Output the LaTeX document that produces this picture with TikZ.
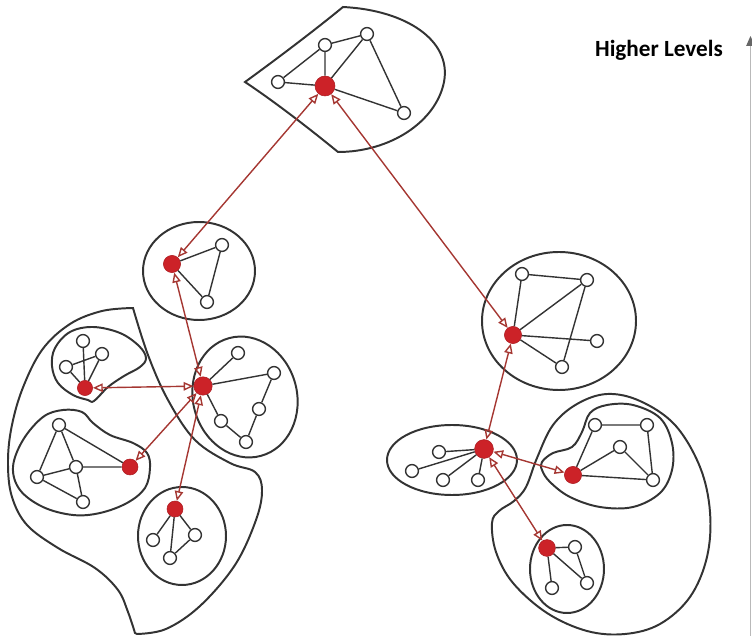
\documentclass[tikz,border=0pt]{standalone}
\usepackage{fontspec}
\newfontfamily\headfont{Carlito}
\usetikzlibrary{arrows.meta}
\definecolor{hubred}{RGB}{204,34,40}
\definecolor{linkred}{RGB}{165,55,50}

\begin{document}
\begin{tikzpicture}[x=0.025cm, y=-0.025cm,
	vx/.style={circle, draw=black!80, fill=white, line width=1pt, minimum size=0.32cm, inner sep=0pt},
	hub/.style={circle, draw=hubred!85!black, fill=hubred, line width=0.4pt, minimum size=#1, inner sep=0pt},
	hub/.default=0.45cm,
	edge/.style={draw=black!80, line width=1pt},
	hull/.style={draw=black!80, line width=1.4pt},
	link/.style={draw=linkred, line width=1pt, >={Triangle[open, length=7pt, width=6pt, line width=1pt]}, <->}]
		\useasboundingbox (0,0) rectangle (752,636);
		\node (title)[font=\headfont\bfseries\fontsize{16.5}{19}\selectfont] at (659,50) {Higher Levels};
		\coordinate (axbot) at (750.5,640);
		\coordinate (axtop) at (750.5,36);
		\draw [gray!55, line width=0.6pt, -{Triangle[length=7pt, width=6pt, color=gray!80!black]}](axbot)--(axtop);
		%
		\draw [hull](245,82) .. controls (278,58) and (315,30) .. (343,7)
			.. controls (405,10) and (452,40) .. (444,82)
			.. controls (436,122) and (390,152) .. (338,152)
			.. controls (305,125) and (272,100) .. (245,82) -- cycle;
		\node (t0)[hub=0.5cm] at (325,86) {};
		\node (t1)[vx] at (278,82) {};
		\node (t2)[vx] at (325,45) {};
		\node (t3)[vx] at (367,34) {};
		\node (t4)[vx] at (404,113) {};
		\draw [edge](t1)--(t2) (t2)--(t3) (t1)--(t0) (t2)--(t0) (t3)--(t0) (t0)--(t4) (t3)--(t4);
		%
		\draw [hull](199,271) ellipse [x radius=56, y radius=49];
		\node (m0)[hub=0.43cm] at (172,264) {};
		\node (m1)[vx] at (222,245) {};
		\node (m2)[vx] at (207,302) {};
		\draw [edge](m0)--(m1) (m0)--(m2) (m1)--(m2);
		%
		\draw [hull]plot[smooth, tension=0.6] coordinates {(133,308) (148,355) (168,400) (195,440) (230,463) (255,472) (262,490) (256,520) (235,565) (200,606) (166,629) (137,634)}
			-- plot[smooth, tension=0.6] coordinates {(135,633) (128,612) (118,590) (95,568) (58,548) (27,525) (12,497) (8,465) (11,430) (22,390) (42,350) (70,324) (102,311) (133,308)} -- cycle;
		%
		\draw [hull]plot[smooth cycle, tension=0.6] coordinates {(94,401) (108,387) (124,376) (140,367) (146,358) (139,346) (120,333) (93,327) (70,332) (55,348) (52,366) (58,383) (73,395) (88,400)};
		\node (a0)[hub=0.38cm] at (85,388) {};
		\node (a1)[vx] at (83,341) {};
		\node (a2)[vx] at (102,354) {};
		\node (a3)[vx] at (66,367) {};
		\draw [edge](a1)--(a0) (a3)--(a2) (a3)--(a0) (a2)--(a0);
		%
		\draw [hull]plot[smooth cycle, tension=0.6] coordinates {(13,467) (23,440) (43,417) (63,410) (82,412) (93,423) (110,435) (133,443) (147,453) (150,468) (145,488) (127,503) (100,513) (73,515) (43,507) (20,490)};
		\node (b0)[hub=0.4cm] at (130,467) {};
		\node (b1)[vx] at (59,425) {};
		\node (b2)[vx] at (76,467) {};
		\node (b3)[vx] at (37,477) {};
		\node (b4)[vx] at (83,502) {};
		\draw [edge](b1)--(b0) (b1)--(b3) (b1)--(b2) (b2)--(b0) (b3)--(b2) (b3)--(b4) (b2)--(b4);
		%
		\draw [hull, rotate around={15:(245,397)}](245,397) ellipse [x radius=52, y radius=61];
		\node (c0)[hub=0.46cm] at (203,386) {};
		\node (c1)[vx] at (238,353) {};
		\node (c2)[vx] at (274,373) {};
		\node (c3)[vx] at (259,409) {};
		\node (c4)[vx] at (246,442) {};
		\node (c5)[vx] at (221,421) {};
		\draw [edge](c0)--(c1) (c0)--(c2) (c0)--(c5) (c2)--(c3) (c3)--(c4) (c4)--(c5);
		%
		\draw [hull](182,536) ellipse [x radius=44, y radius=49];
		\node (d0)[hub=0.4cm] at (175,509) {};
		\node (d1)[vx] at (153,540) {};
		\node (d2)[vx] at (195,535) {};
		\node (d3)[vx] at (170,558) {};
		\draw [edge](d0)--(d1) (d0)--(d3) (d0)--(d2) (d2)--(d3);
		%
		\draw [hull](559,321) ellipse [x radius=77, y radius=69];
		\node (e0)[hub=0.43cm] at (513,335) {};
		\node (e1)[vx] at (522,274) {};
		\node (e2)[vx] at (587,280) {};
		\node (e3)[vx] at (597,341) {};
		\node (e4)[vx] at (562,367) {};
		\draw [edge](e0)--(e1) (e1)--(e2) (e0)--(e2) (e0)--(e3) (e0)--(e4) (e2)--(e4);
		%
		\draw [hull](452,460) ellipse [x radius=65, y radius=35];
		\node (f0)[hub=0.47cm] at (484,449) {};
		\node (f1)[vx] at (439,452) {};
		\node (f2)[vx] at (412,471) {};
		\node (f3)[vx] at (443,480) {};
		\node (f4)[vx] at (478,480) {};
		\draw [edge](f0)--(f1) (f0)--(f2) (f0)--(f3) (f0)--(f4);
		%
		\draw [hull]plot[smooth cycle, tension=0.6] coordinates {(492,523) (496,552) (513,583) (547,613) (587,631) (625,634) (660,624) (690,597) (707,557) (710,512) (700,467) (675,425) (640,401) (607,394) (577,404) (553,425) (537,458) (526,487) (514,501) (499,511)};
		%
		\draw [hull]plot[smooth cycle, tension=0.6] coordinates {(542,462) (553,453) (572,447) (582,432) (590,413) (607,405) (633,405) (660,418) (672,443) (672,470) (660,493) (633,507) (600,507) (570,497) (550,482) (542,470)};
		\node (g0)[hub=0.43cm] at (573,475) {};
		\node (g1)[vx] at (595,425) {};
		\node (g2)[vx] at (647,425) {};
		\node (g3)[vx] at (620,447) {};
		\node (g4)[vx] at (653,480) {};
		\draw [edge](g1)--(g2) (g1)--(g0) (g0)--(g3) (g3)--(g4) (g2)--(g4) (g0)--(g4);
		%
		\draw [hull](567,569) ellipse [x radius=37, y radius=44];
		\node (k0)[hub=0.42cm] at (547,548) {};
		\node (k1)[vx] at (575,547) {};
		\node (k2)[vx] at (587,583) {};
		\node (k3)[vx] at (552,588) {};
		\draw [edge](k0)--(k1) (k0)--(k2) (k0)--(k3) (k1)--(k2);
		%
		\draw [link](t0)--(m0);
		\draw [link](t0)--(e0);
		\draw [link](m0)--(c0);
		\draw [link](c0)--(a0);
		\draw [link](c0)--(b0);
		\draw [link](c0)--(d0);
		\draw [link](e0)--(f0);
		\draw [link](f0)--(g0);
		\draw [link](f0)--(k0);
	\end{tikzpicture}
\end{document}
